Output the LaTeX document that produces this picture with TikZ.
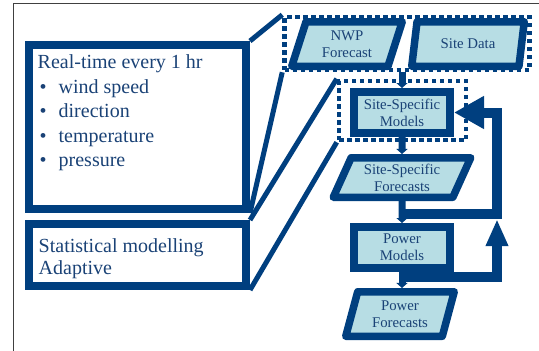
\documentclass[tikz,border=0pt]{standalone}
\usepackage{fontspec}
\setmainfont{Liberation Serif}
\usetikzlibrary{arrows.meta,positioning,calc,shapes.geometric}
\definecolor{flownavy}{RGB}{0,63,127}
\definecolor{flowtext}{RGB}{26,66,118}
\definecolor{flowfill}{RGB}{183,221,228}
\newcommand{\itm}{\makebox[21pt][l]{\hspace{2pt}\textbullet}}

\begin{document}
\begin{tikzpicture}[
    x=1pt, y=-1pt,
    note/.style={draw=flownavy, line width=8pt, minimum width=217pt, inner sep=0pt},
    notetext/.style={anchor=north west, align=left, inner sep=0pt, text=flowtext,
                     font=\fontsize{20}{24.6}\selectfont},
    datashape/.style={draw=flownavy, fill=flowfill, line width=7.5pt, line join=round,
                      trapezium, trapezium stretches body, trapezium left angle=62,
                      trapezium right angle=118, text=flowtext, align=center,
                      font=\fontsize{14.8}{17}\selectfont, inner sep=0pt},
    model/.style={draw=flownavy, fill=flowfill, line width=8pt, minimum width=96pt,
                  minimum height=41pt, text=flowtext, align=center,
                  font=\fontsize{14.8}{17}\selectfont, inner sep=0pt},
    groupbox/.style={draw=flownavy, line width=4.5pt, dash pattern=on 4.5pt off 3.5pt, inner sep=0pt},
    leader/.style={draw=flownavy, line width=5pt},
    flow/.style={draw=flownavy, line width=7pt, -{Triangle[length=5pt,width=11pt]}},
    feedback/.style={draw=flownavy, line width=10pt}
]
\useasboundingbox (0,0) rectangle (539,351);
\draw[black!75, line width=1.3pt] (13.5,351) -- (13.5,3.5) -- (539,3.5);

% left hand notes
\node[note, minimum height=164pt] (rt) at (137.5,127) {};
\node[note, minimum height=62pt] (stat) at (137.5,255) {};
\node[notetext] (rttext) at (37.5,54.5) {Real-time every 1 hr\\ \itm wind speed\\ \itm direction\\ \itm temperature\\ \itm pressure};
\node[notetext, font=\fontsize{20}{22}\selectfont] (stattext) at (38.5,238.5) {Statistical modelling\\ Adaptive};

% dotted groups
\node[groupbox, minimum width=245pt, minimum height=53pt] (inputs) at (407,43.5) {};
\node[groupbox, minimum width=127pt, minimum height=59pt] (siteblock) at (402.5,110.5) {};

\draw[leader] (rt.north east) -- (inputs.north west);
\draw[leader] (rt.south east) -- (inputs.south west);
\draw[leader] (stat.north east) -- (siteblock.north west);
\draw[leader] (stat.south east) -- (siteblock.south west);

% flow chain
\node[datashape, minimum width=110.5pt, minimum height=44.5pt] (nwp) at (347,44) {NWP\\Forecast};
\node[datashape, minimum width=112.5pt, minimum height=44.5pt] (sitedata) at (468,44) {Site Data};
\node[model] (ssm) at (402,112.5) {Site-Specific\\Models};
\node[datashape, minimum width=137.5pt, minimum height=39.5pt,
      trapezium left angle=57, trapezium right angle=123] (ssf) at (402,177.5) {Site-Specific\\Forecasts};
\node[model] (pm) at (402,247.5) {Power\\Models};
\node[datashape, minimum width=108.5pt, minimum height=44.5pt,
      trapezium left angle=66, trapezium right angle=114] (pf) at (400,314) {Power\\Forecasts};

\draw[flow] (inputs.south -| ssm.north) -- (ssm.north);
\draw[flow] (ssm.south) -- (ssf.north);
\draw[flow] (ssf.south) -- (pm.north);
\draw[flow] (pm.south) -- (pm.south |- pf.north);

% feedback loops
\coordinate (tapA) at ($(ssf.south)!0.6!(pm.north)$);
\coordinate (tapB) at ($(pm.south)!0.3!(pf.north)$);
\coordinate (railA) at ($(ssm.east)+(43,0)$);
\draw[feedback, -{Triangle[length=30pt,width=31pt]}] (tapA) -| (railA) -- (ssm.east);
\draw[feedback, -{Triangle[length=27pt,width=21pt]}] (tapB) -| ($(railA |- tapA)+(0,5)$);
\end{tikzpicture}
\end{document}
